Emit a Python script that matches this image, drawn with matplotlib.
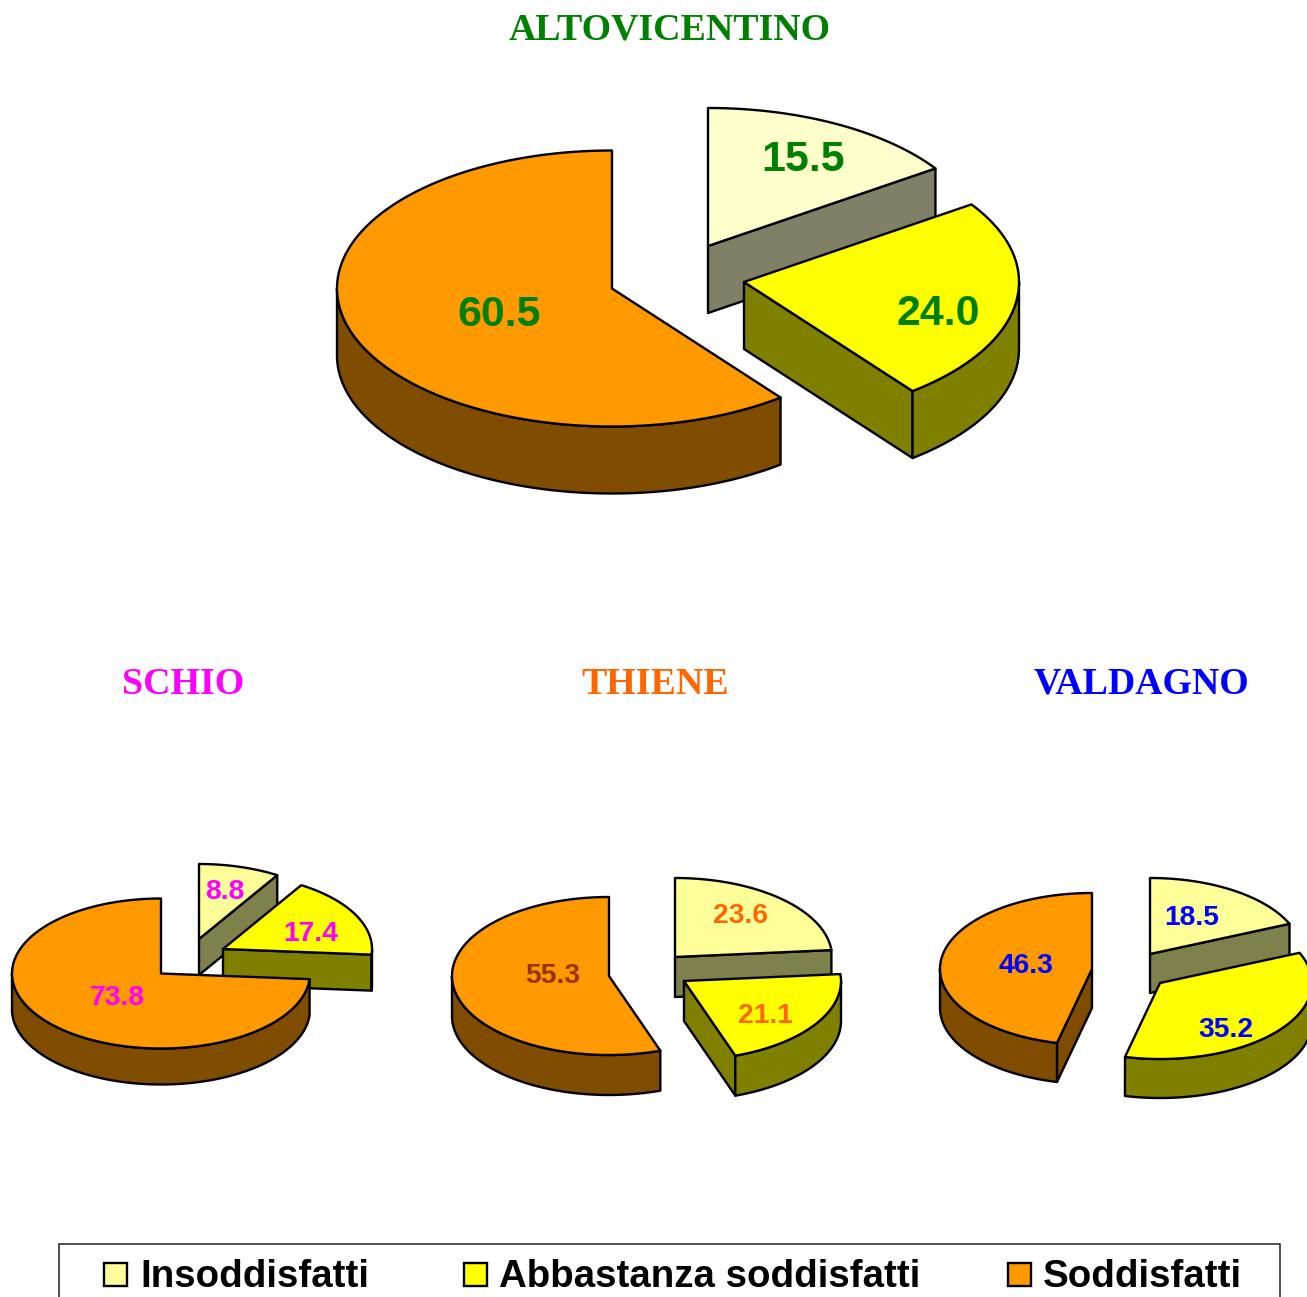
import numpy as np
import matplotlib
matplotlib.use("Agg")
import matplotlib.pyplot as plt
from matplotlib.patches import Polygon, Rectangle

W, H = 1307, 1297
SANS = "Liberation Sans"
SERIF = "Liberation Serif"

# data
categories = ["Insoddisfatti", "Abbastanza soddisfatti", "Soddisfatti"]
altovicentino = [15.5, 24.0, 60.5]
schio = [8.8, 17.4, 73.8]
thiene = [23.6, 21.1, 55.3]
valdagno = [18.5, 35.2, 46.3]
pie_titles = ["ALTOVICENTINO", "SCHIO", "THIENE", "VALDAGNO"]

# styles
title_colors = ["#008000", "#FF00FF", "#FF6600", "#0000FF"]
label_colors = [
    ["#008000"] * 3,
    ["#FF00FF"] * 3,
    ["#FF6600", "#FF6600", "#993300"],
    ["#0000FF"] * 3,
]
tops_big = ["#FFFFCC", "#FFFF00", "#FF9900"]
sides_big = ["#808066", "#808000", "#804C00"]
tops_small = ["#FFFF99", "#FFFF00", "#FF9900"]
sides_small = ["#80804C", "#808000", "#804C00"]

fig = plt.figure(figsize=(W / 100, H / 100), dpi=100)
ax = fig.add_axes([0, 0, 1, 1])
ax.set_xlim(0, W)
ax.set_ylim(H, 0)
ax.axis("off")

LW = 1.7


def pt(c, a, rx, ry):
    """Point on the ellipse at clock angle a (degrees) about apex c."""
    r = np.radians(a)
    return np.column_stack((c[0] + rx * np.sin(r), c[1] - ry * np.cos(r)))


def slice3d(apex, a0, a1, rx, ry, depth, top, side, z):
    apex = np.array(apex, float)
    down = np.array([0, depth])
    # flat walls along the two cuts, only those turned towards the viewer
    for a, phi in ((a0, a0 - 90), (a1, a1 + 90)):
        if np.cos(np.radians(phi)) < -1e-6:
            e = pt(apex, a, rx, ry)[0]
            ax.add_patch(Polygon([apex, e, e + down, apex + down], closed=True,
                                 fc=side, ec="black", lw=LW, joinstyle="round", zorder=z))
    # curved outer wall, front half of the ellipse only
    lo, hi = max(a0, 90), min(a1, 270)
    if hi > lo:
        arc = pt(apex, np.linspace(lo, hi, 120), rx, ry)
        ax.add_patch(Polygon(np.vstack((arc, (arc + down)[::-1])), closed=True,
                             fc=side, ec="black", lw=LW, joinstyle="round", zorder=z + 0.1))
    # top face
    arc = pt(apex, np.linspace(a0, a1, 200), rx, ry)
    ax.add_patch(Polygon(np.vstack((apex, arc)), closed=True,
                         fc=top, ec="black", lw=LW, joinstyle="round", zorder=z + 0.2))


def pie3d(values, apexes, rx, ry, depth, tops, sides, z):
    total = sum(values)
    edges = np.concatenate(([0], np.cumsum(values))) / total * 360
    for i, v in enumerate(values):
        slice3d(apexes[i], edges[i], edges[i + 1], rx, ry, depth, tops[i], sides[i], z + i)


# top pie
pie3d(altovicentino, [(708, 246), (744, 282), (612, 288.5)], 275, 138, 67, tops_big, sides_big, 2)
# lower row
pie3d(schio, [(199, 939), (223, 949), (161, 973.5)], 149, 75, 36, tops_small, sides_small, 2)
pie3d(thiene, [(675, 957), (684, 981), (609, 976)], 157, 79, 40, tops_small, sides_small, 2)
pie3d(valdagno, [(1150, 954), (1160, 983), (1092, 969)], 152, 76, 39, tops_small, sides_small, 2)

# value labels
series = [altovicentino, schio, thiene, valdagno]
label_pos = [
    [(803, 160), (938, 314), (499, 315)],
    [(225, 892), (311, 934), (117, 998)],
    [(741, 916), (765, 1016), (553, 976)],
    [(1192, 918), (1226, 1030), (1026, 966)],
]
label_size = [30.9, 20.3, 20.3, 20.3]
for s, vals in enumerate(series):
    for i, v in enumerate(vals):
        ax.text(*label_pos[s][i], f"{v:.1f}", color=label_colors[s][i], family=SANS,
                weight="bold", fontsize=label_size[s], ha="center", va="center", zorder=20)

# titles
title_pos = [(670, 30), (183, 684), (655, 684), (1141, 684)]
for t, c, p in zip(pie_titles, title_colors, title_pos):
    ax.text(*p, t, color=c, family=SERIF, weight="bold", fontsize=27.3,
            ha="center", va="center", zorder=20)

# legend
ax.add_patch(Rectangle((59, 1244), 1221, 80, fc="white", ec="#222222", lw=1.1, zorder=1))
swatch_x = [104, 464, 1008]
text_x = [140, 499, 1043]
legend_tops = tops_small
for x, tx, c, col in zip(swatch_x, text_x, categories, legend_tops):
    ax.add_patch(Rectangle((x, 1263), 23, 23, fc=col, ec="black", lw=1.7, zorder=3))
    ax.text(tx, 1277, c, family=SANS, weight="bold", fontsize=27.7, color="black",
            ha="left", va="center", zorder=3)

fig.savefig("out.png", dpi=100, facecolor="white")
